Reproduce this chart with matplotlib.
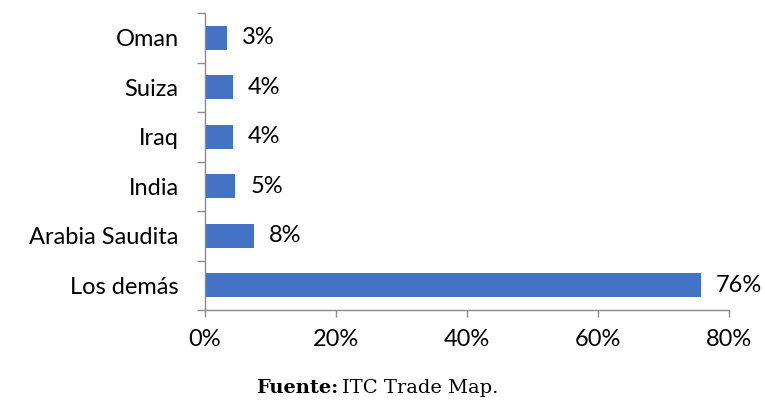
import matplotlib

matplotlib.use("Agg")
import matplotlib.pyplot as plt
import numpy as np

categories = ["Los demás", "Arabia Saudita", "India", "Iraq", "Suiza", "Oman"]
shares = [75.7, 7.5, 4.6, 4.3, 4.3, 3.4]
labels = ["76%", "8%", "5%", "4%", "4%", "3%"]
xticks = [0, 20, 40, 60, 80]

BAR = "#4472C4"
GREY = "#8C8C8C"
FONT = "Lato"
FS = 17

fig = plt.figure(figsize=(7.65, 4.01), dpi=100)
ax = fig.add_axes([205 / 765, 1 - 310 / 401, 524 / 765, 297 / 401])

y = np.arange(len(categories))
ax.barh(y, shares, height=0.49, color=BAR)
for yi, v, lab in zip(y, shares, labels):
    ax.text(v + 2.3, yi, lab, va="center", ha="left", fontsize=FS, family=FONT)

ax.set_xlim(0, 80)
ax.set_ylim(-0.5, len(categories) - 0.5)
ax.set_xticks(xticks)
ax.set_xticklabels([f"{t}%" for t in xticks], fontsize=FS, family=FONT)
ax.set_yticks(y)
ax.set_yticklabels(categories, fontsize=FS, family=FONT)
ax.tick_params(axis="y", length=0, pad=19)
ax.set_yticks(np.arange(len(categories) + 1) - 0.5, minor=True)
ax.tick_params(axis="y", which="minor", length=6, color=GREY, width=1)
ax.tick_params(axis="x", length=5, color=GREY, width=1, pad=9)

for side in ["top", "right"]:
    ax.spines[side].set_visible(False)
for side in ["left", "bottom"]:
    ax.spines[side].set_color(GREY)
    ax.spines[side].set_linewidth(1)

fig.text(338 / 765, 1 - 388 / 401, "Fuente:", ha="right", va="center",
         fontsize=14, fontweight="bold", family="DejaVu Serif")
fig.text(342 / 765, 1 - 388 / 401, "ITC Trade Map.", ha="left", va="center",
         fontsize=14, family="DejaVu Serif")

fig.savefig("out.png", dpi=100)
plt.close(fig)
